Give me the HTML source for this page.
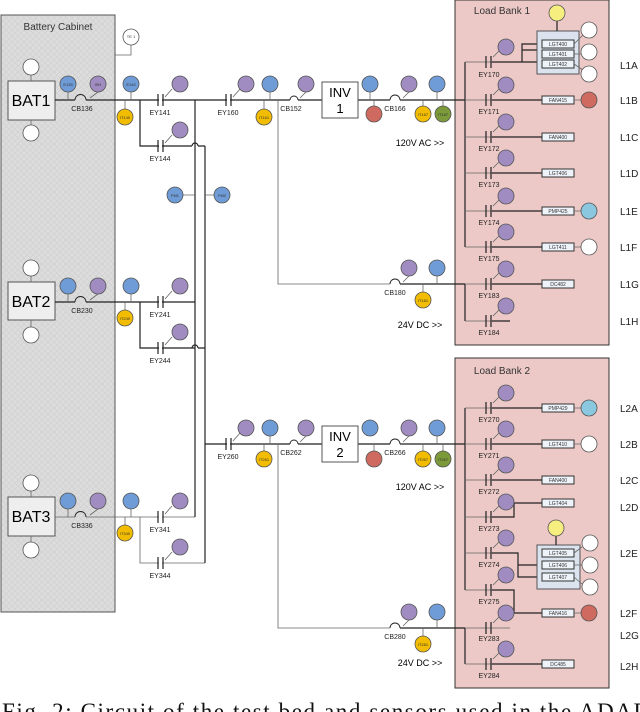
<!DOCTYPE html>
<html><head><meta charset="utf-8"><style>
html,body{margin:0;padding:0;background:#fff;}
svg{display:block;font-family:"Liberation Sans",sans-serif;}
.c{stroke:#555;stroke-width:0.8}
.b{fill:#6f9bd6}.p{fill:#a08cc0}.y{fill:#f2bd00}.r{fill:#cf6a60}.g{fill:#7c9a3a}.w{fill:#fff}.lb{fill:#8cc7e0}.ly{fill:#f6ef80}
.t{font-size:4px;fill:#333;text-anchor:middle}
.lab{font-size:8px;fill:#222;text-anchor:middle}
.ln{stroke:#222;stroke-width:1.2;fill:none}
.lt{stroke:#666;stroke-width:0.8;fill:none}
.bx{fill:#eef3fa;stroke:#333;stroke-width:1}
.bt{font-size:5px;fill:#333;text-anchor:middle}
.L{font-size:10px;fill:#222}
</style></head><body>
<svg width="640" height="712" viewBox="0 0 640 712">
<defs>
<pattern id="h" width="6" height="6" patternUnits="userSpaceOnUse"><rect width="6" height="6" fill="#dcdcdc"/><path d="M0 0L6 6M6 0L0 6" stroke="#cfcfcf" stroke-width="0.6"/></pattern>
</defs>
<rect x="1" y="15" width="114" height="597" fill="url(#h)" stroke="#555" stroke-width="1"/>
<text x="58" y="30" font-size="10" text-anchor="middle" fill="#333">Battery Cabinet</text>
<rect x="455" y="0" width="154" height="345" fill="#ecc9c7" stroke="#333" stroke-width="1"/>
<text x="502" y="14" font-size="10" text-anchor="middle" fill="#333">Load Bank 1</text>
<rect x="455" y="358" width="154" height="330" fill="#ecc9c7" stroke="#333" stroke-width="1"/>
<text x="502" y="374" font-size="10" text-anchor="middle" fill="#333">Load Bank 2</text>
<path class="lt" d="M115 55H131V45"/>
<circle class="c w" cx="131" cy="37" r="8"/><text class="t" x="131" y="38">TE 1</text>

<g>
<rect x="8" y="81" width="47" height="39" fill="#eee" stroke="#555"/><text x="31" y="106" font-size="16" text-anchor="middle">BAT1</text>
<rect x="8" y="282" width="47" height="38" fill="#eee" stroke="#555"/><text x="31" y="307" font-size="16" text-anchor="middle">BAT2</text>
<rect x="8" y="497" width="47" height="39" fill="#eee" stroke="#555"/><text x="31" y="522" font-size="16" text-anchor="middle">BAT3</text>
<path class="lt" d="M31 75V81M31 120V126M31 276V282M31 320V327M31 491V497M31 536V543"/>
<circle class="c w" cx="31" cy="67" r="8"/><circle class="c w" cx="31" cy="133" r="8"/>
<circle class="c w" cx="31" cy="268" r="8"/><circle class="c w" cx="31" cy="335" r="8"/>
<circle class="c w" cx="31" cy="483" r="8"/><circle class="c w" cx="31" cy="550" r="8"/>
</g>

<path class="ln" d="M55 100H75M86 100H290M298 100H322M358 100H390M400 100H465"/>
<path class="ln" d="M55 302H75M86 302H195M140 302V348H195"/>
<path class="lt" d="M55 517H75M86 517H195M140 517V563H205"/>
<path class="ln" d="M140 100V146H192M198 146H205"/>
<path class="ln" d="M195 100V517"/>
<path class="ln" d="M192 146a3 3 0 0 1 6 0"/>
<path class="ln" d="M192 348a3 3 0 0 1 6 0M198 348H205"/>
<path class="ln" d="M205 146V563"/>
<path class="ln" d="M205 444H290M298 444H322M358 444H390M400 444H465"/>
<path class="lt" d="M278 100V284H390M400 284H465M278 444V628H390M400 628H465"/>
<path class="ln" d="M400 284H465M400 628H465"/>
<path class="lt" d="M175 195H195M205 195H222"/>
<circle class="c b" cx="175" cy="195" r="8"/><circle class="c b" cx="222" cy="195" r="8"/>
<text class="t" x="175" y="197">FM1</text><text class="t" x="222" y="197">FM2</text>

<g class="ln" style="stroke-width:0.9">
<path d="M75 100a5.5 5.5 0 0 1 11 0"/><path d="M75 302a5.5 5.5 0 0 1 11 0"/><path d="M75 517a5.5 5.5 0 0 1 11 0"/>
<path d="M290 100a4 4 0 0 1 8 0"/><path d="M290 444a4 4 0 0 1 8 0"/>
<path d="M390 100a5 5 0 0 1 10 0"/><path d="M390 444a5 5 0 0 1 10 0"/>
<path d="M390 284a5 5 0 0 1 10 0"/><path d="M390 628a5 5 0 0 1 10 0"/>
</g>
<g class="lab" style="font-size:7px">
<text x="82" y="111">CB136</text><text x="82" y="313">CB230</text><text x="82" y="528">CB336</text>
<text x="291" y="111">CB152</text><text x="291" y="455">CB262</text>
<text x="395" y="111">CB166</text><text x="395" y="455">CB266</text>
<text x="395" y="295">CB180</text><text x="395" y="639">CB280</text>
</g>

<g stroke="#222" stroke-width="1.2">
<path d="M158 94v12M163 94v12M158 140v12M163 140v12M158 296v12M163 296v12M158 342v12M163 342v12M158 511v12M163 511v12M158 557v12M163 557v12M226 94v12M231 94v12M226 438v12M231 438v12"/>
</g>
<rect x="159" y="94" width="3" height="12" fill="#fff"/><rect x="159" y="140" width="3" height="12" fill="#fff"/>
<rect x="159" y="296" width="3" height="12" fill="#fff"/><rect x="159" y="342" width="3" height="12" fill="#fff"/>
<rect x="159" y="511" width="3" height="12" fill="#fff"/><rect x="159" y="557" width="3" height="12" fill="#fff"/>
<rect x="227" y="94" width="3" height="12" fill="#fff"/><rect x="227" y="438" width="3" height="12" fill="#fff"/>
<g class="lab" style="font-size:7px">
<text x="160" y="115">EY141</text><text x="160" y="161">EY144</text><text x="160" y="317">EY241</text><text x="160" y="363">EY244</text>
<text x="160" y="532">EY341</text><text x="160" y="578">EY344</text><text x="228" y="115">EY160</text><text x="228" y="459">EY260</text>
</g>
<g class="lt">
<path d="M165 97L172 89M165 143L172 135M165 299L172 291M165 345L172 337M165 514L172 506M165 560L172 552M233 97L240 89"/>
<path d="M68 92V100M98 92L90 98M131 92V100M125 100V110M270 92V100M264 100V110M306 92L300 98M370 92V100M374 100V106M409 92L403 98M423 100V106M437 92V100M443 100V106"/>
<path d="M68 294V302M98 294L90 300M131 294V302M125 302V311M68 509V517M98 509L90 515M131 509V517M125 517V526"/>
<path d="M233 441L240 433M270 436V444M264 444V451M306 436L300 442M344 436V444M374 444V451M409 436L403 442M423 444V451M437 436V444M443 444V451"/>
<path d="M409 276L403 282M437 276V284M423 284V292M409 620L403 626M437 620V628M423 628V636"/>
</g>

<g class="c">
<circle class="b" cx="68" cy="84" r="8"/><circle class="p" cx="98" cy="84" r="8"/><circle class="b" cx="131" cy="84" r="8"/><circle class="y" cx="125" cy="117" r="8"/>
<circle class="p" cx="180" cy="84" r="8"/><circle class="p" cx="180" cy="130" r="8"/>
<circle class="p" cx="246" cy="84" r="8"/><circle class="b" cx="270" cy="84" r="8"/><circle class="y" cx="264" cy="117" r="8"/><circle class="p" cx="306" cy="84" r="8"/>
<circle class="b" cx="370" cy="84" r="8"/><circle class="r" cx="374" cy="114" r="8"/><circle class="p" cx="409" cy="84" r="8"/><circle class="y" cx="423" cy="114" r="8"/><circle class="b" cx="437" cy="84" r="8"/><circle class="g" cx="443" cy="114" r="8"/>
<circle class="b" cx="68" cy="286" r="8"/><circle class="p" cx="98" cy="286" r="8"/><circle class="b" cx="131" cy="286" r="8"/><circle class="y" cx="125" cy="318" r="8"/>
<circle class="p" cx="180" cy="286" r="8"/><circle class="p" cx="180" cy="332" r="8"/>
<circle class="b" cx="68" cy="501" r="8"/><circle class="p" cx="98" cy="501" r="8"/><circle class="b" cx="131" cy="501" r="8"/><circle class="y" cx="125" cy="533" r="8"/>
<circle class="p" cx="180" cy="501" r="8"/><circle class="p" cx="180" cy="547" r="8"/>
<circle class="p" cx="246" cy="428" r="8"/><circle class="b" cx="270" cy="428" r="8"/><circle class="y" cx="264" cy="459" r="8"/><circle class="p" cx="306" cy="428" r="8"/>
<circle class="b" cx="370" cy="428" r="8"/><circle class="r" cx="374" cy="459" r="8"/><circle class="p" cx="409" cy="428" r="8"/><circle class="y" cx="423" cy="459" r="8"/><circle class="b" cx="437" cy="428" r="8"/><circle class="g" cx="443" cy="459" r="8"/>
<circle class="p" cx="409" cy="268" r="8"/><circle class="b" cx="437" cy="268" r="8"/><circle class="y" cx="423" cy="300" r="8"/>
<circle class="p" cx="409" cy="612" r="8"/><circle class="b" cx="437" cy="612" r="8"/><circle class="y" cx="423" cy="644" r="8"/>
</g>
<g class="t">
<text x="68" y="86">E135</text><text x="98" y="86">ISH</text><text x="131" y="86">E140</text><text x="125" y="119">IT140</text>
<text x="264" y="119">IT161</text><text x="423" y="116">IT167</text><text x="443" y="116">IT167</text>
<text x="125" y="320">IT240</text><text x="125" y="535">IT340</text><text x="264" y="461">IT261</text><text x="423" y="461">IT267</text><text x="443" y="461">IT267</text>
<text x="423" y="302">IT181</text><text x="423" y="646">IT281</text>
</g>

<rect x="322" y="82" width="36" height="36" fill="#fff" stroke="#555"/><text x="340" y="97" font-size="13" text-anchor="middle">INV</text><text x="340" y="113" font-size="13" text-anchor="middle">1</text>
<rect x="322" y="426" width="36" height="36" fill="#fff" stroke="#555"/><text x="340" y="441" font-size="13" text-anchor="middle">INV</text><text x="340" y="457" font-size="13" text-anchor="middle">2</text>
<text x="420" y="146" font-size="9" text-anchor="middle">120V AC &gt;&gt;</text>
<text x="420" y="328" font-size="9" text-anchor="middle">24V DC &gt;&gt;</text>
<text x="420" y="490" font-size="9" text-anchor="middle">120V AC &gt;&gt;</text>
<text x="420" y="666" font-size="9" text-anchor="middle">24V DC &gt;&gt;</text>

<path class="ln" d="M465 62V247M465 284V321M465 408V590M465 628V664"/>
<path class="lt" d="M465 62H510M465 100H510M465 137H510M465 173H510M465 211H510M465 247H510M465 284H510M465 321H510"/>
<path class="lt" d="M465 408H510M465 444H510M465 480H510M465 517H510M465 553H510M465 590H510M465 628H510M465 664H510"/>
<path class="ln" d="M492 62H522V44H542M522 50H542M522 62H542"/>
<path class="ln" d="M492 100H542M492 137H542M492 173H542M492 211H542M492 247H542M492 284H542M492 321H510"/>
<path class="ln" d="M492 408H542M492 444H542M492 480H542M492 517H514V503H542M492 553H518V577H542M518 565H542M492 590H514V613H542M492 664H542"/>
<g stroke="#222" stroke-width="1.2">
<path d="M486 56v12M491 56v12M486 94v12M491 94v12M486 131v12M491 131v12M486 167v12M491 167v12M486 205v12M491 205v12M486 241v12M491 241v12M486 278v12M491 278v12M486 315v12M491 315v12"/>
<path d="M486 402v12M491 402v12M486 438v12M491 438v12M486 474v12M491 474v12M486 511v12M491 511v12M486 547v12M491 547v12M486 584v12M491 584v12M486 622v12M491 622v12M486 658v12M491 658v12"/>
</g>
<g class="lt">
<path d="M493 57L500 50M493 95L500 88M493 132L500 125M493 168L500 161M493 206L500 199M493 242L500 235M493 279L500 272M493 316L500 309"/>
<path d="M493 403L500 396M493 439L500 432M493 475L500 468M493 512L500 505M493 548L500 541M493 585L500 578M493 623L500 616M493 659L500 652"/>
</g>
<g class="c p">
<circle cx="506" cy="47" r="8"/><circle cx="506" cy="85" r="8"/><circle cx="506" cy="122" r="8"/><circle cx="506" cy="158" r="8"/><circle cx="506" cy="196" r="8"/><circle cx="506" cy="232" r="8"/><circle cx="506" cy="269" r="8"/><circle cx="506" cy="306" r="8"/>
<circle cx="506" cy="393" r="8"/><circle cx="506" cy="429" r="8"/><circle cx="506" cy="465" r="8"/><circle cx="506" cy="502" r="8"/><circle cx="506" cy="538" r="8"/><circle cx="506" cy="575" r="8"/><circle cx="506" cy="613" r="8"/><circle cx="506" cy="649" r="8"/>
</g>
<g class="lab" style="font-size:7px">
<text x="489" y="77">EY170</text><text x="489" y="114">EY171</text><text x="489" y="151">EY172</text><text x="489" y="187">EY173</text><text x="489" y="225">EY174</text><text x="489" y="261">EY175</text><text x="489" y="298">EY183</text><text x="489" y="335">EY184</text>
<text x="489" y="422">EY270</text><text x="489" y="458">EY271</text><text x="489" y="494">EY272</text><text x="489" y="531">EY273</text><text x="489" y="567">EY274</text><text x="489" y="604">EY275</text><text x="489" y="641">EY283</text><text x="489" y="678">EY284</text>
</g>

<rect x="537" y="31" width="42" height="43" fill="#dbe4ee" stroke="#555"/>
<rect x="537" y="545" width="43" height="44" fill="#dbe4ee" stroke="#555"/>
<path class="ln" d="M557 21V31M556 536V545"/>
<circle class="c ly" cx="557" cy="13" r="8"/><circle class="c ly" cx="556" cy="528" r="8"/>
<g>
<rect class="bx" x="542" y="40" width="32" height="8"/><rect class="bx" x="542" y="50" width="32" height="8"/><rect class="bx" x="542" y="60" width="32" height="8"/>
<rect class="bx" x="542" y="96" width="32" height="8"/><rect class="bx" x="542" y="133" width="32" height="8"/><rect class="bx" x="542" y="169" width="32" height="8"/><rect class="bx" x="542" y="207" width="32" height="8"/><rect class="bx" x="542" y="243" width="32" height="8"/><rect class="bx" x="542" y="280" width="32" height="8"/>
<rect class="bx" x="542" y="404" width="32" height="8"/><rect class="bx" x="542" y="440" width="32" height="8"/><rect class="bx" x="542" y="476" width="32" height="8"/><rect class="bx" x="542" y="499" width="32" height="8"/>
<rect class="bx" x="542" y="549" width="32" height="8"/><rect class="bx" x="542" y="561" width="32" height="8"/><rect class="bx" x="542" y="573" width="32" height="8"/><rect class="bx" x="542" y="609" width="32" height="8"/><rect class="bx" x="542" y="660" width="32" height="8"/>
</g>
<g class="bt">
<text x="558" y="46">LGT400</text><text x="558" y="56">LGT401</text><text x="558" y="66">LGT402</text>
<text x="558" y="102">FAN415</text><text x="558" y="139">FAN400</text><text x="558" y="175">LGT406</text><text x="558" y="213">PMP425</text><text x="558" y="249">LGT411</text><text x="558" y="286">DC482</text>
<text x="558" y="410">PMP429</text><text x="558" y="446">LGT410</text><text x="558" y="482">FAN400</text><text x="558" y="505">LGT404</text>
<text x="558" y="555">LGT405</text><text x="558" y="567">LGT406</text><text x="558" y="579">LGT407</text><text x="558" y="615">FAN416</text><text x="558" y="666">DC485</text>
</g>
<path class="lt" d="M574 44L583 35M574 54H581M574 64L583 70M574 100H581M574 211H581M574 247H581M574 408H581M574 444H581M574 553L582 547M574 565H582M574 577L582 584M574 613H581"/>
<g class="c">
<circle class="w" cx="589" cy="30" r="8"/><circle class="w" cx="589" cy="52" r="8"/><circle class="w" cx="589" cy="74" r="8"/>
<circle class="r" cx="589" cy="100" r="8"/><circle class="lb" cx="589" cy="211" r="8"/><circle class="w" cx="589" cy="247" r="8"/>
<circle class="lb" cx="589" cy="408" r="8"/><circle class="w" cx="589" cy="444" r="8"/>
<circle class="w" cx="590" cy="543" r="8"/><circle class="w" cx="590" cy="565" r="8"/><circle class="w" cx="590" cy="587" r="8"/><circle class="r" cx="589" cy="613" r="8"/>
</g>
<g class="L">
<text x="620" y="69">L1A</text><text x="620" y="104">L1B</text><text x="620" y="141">L1C</text><text x="620" y="177">L1D</text><text x="620" y="215">L1E</text><text x="620" y="251">L1F</text><text x="620" y="288">L1G</text><text x="620" y="325">L1H</text>
<text x="620" y="412">L2A</text><text x="620" y="448">L2B</text><text x="620" y="484">L2C</text><text x="620" y="511">L2D</text><text x="620" y="557">L2E</text><text x="620" y="617">L2F</text><text x="620" y="639">L2G</text><text x="620" y="670">L2H</text>
</g>

<text x="2" y="719" font-family="Liberation Serif, serif" font-size="23" fill="#111" textLength="660" lengthAdjust="spacing">Fig. 2: Circuit of the test bed and sensors used in the ADAPT</text>
</svg>
</body></html>
